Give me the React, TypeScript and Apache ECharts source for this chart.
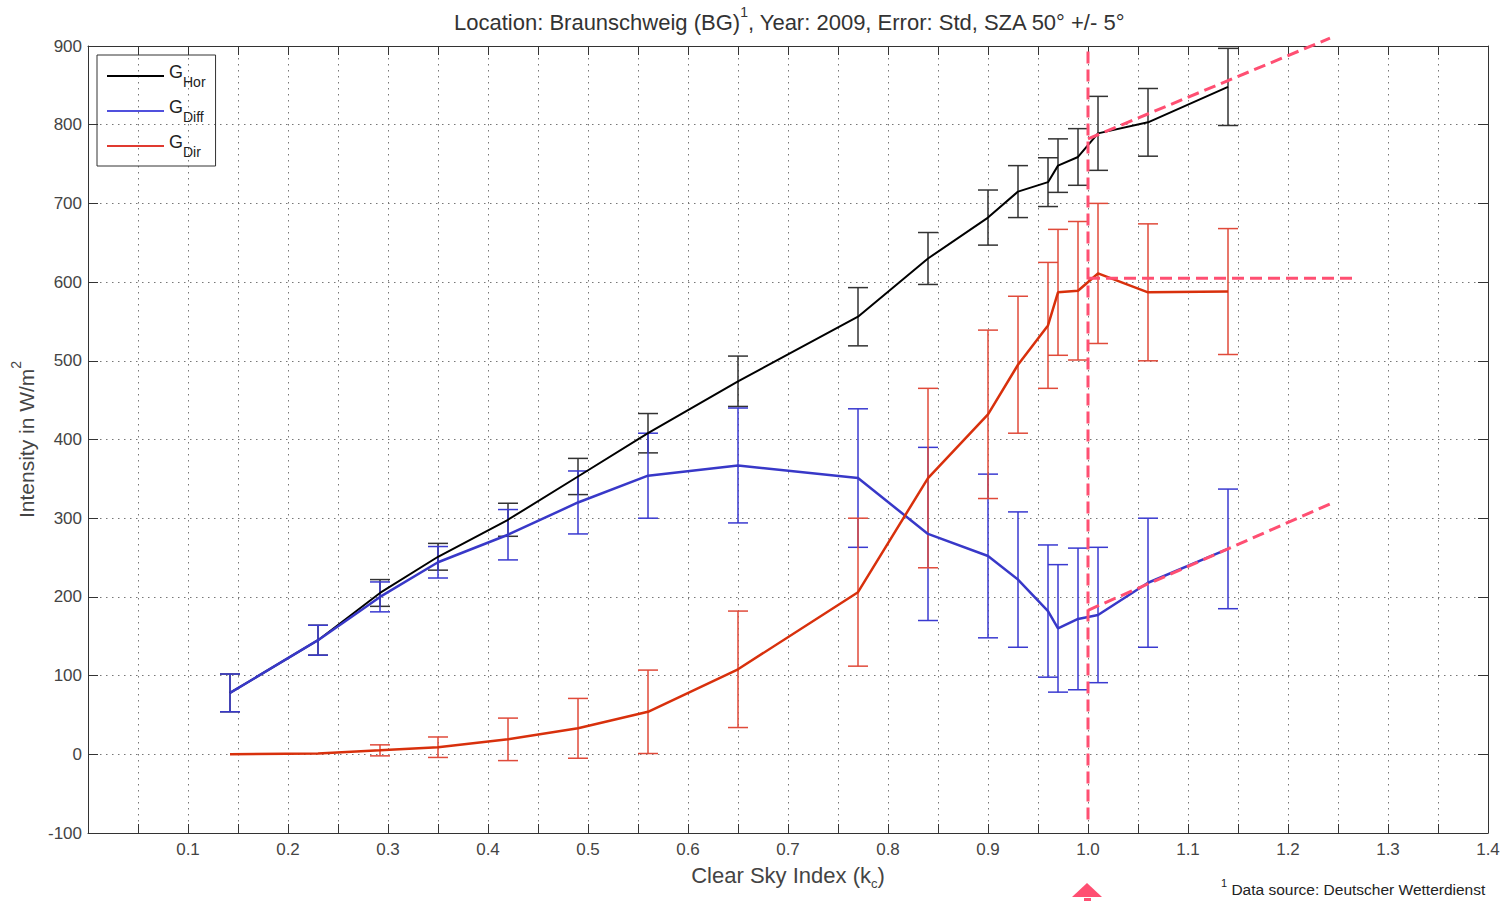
import React, { useEffect, useRef } from "react";
import * as echarts from "echarts";

// Clear sky index (x positions of the binned means)
const kc = [0.142, 0.23, 0.292, 0.35, 0.42, 0.49, 0.56, 0.65, 0.77, 0.84, 0.9, 0.93, 0.96, 0.97, 0.99, 1.01, 1.06, 1.14];
// Global horizontal irradiance (W/m²) and its std
const gHor = [78, 145, 205, 251, 298, 353, 408, 474, 556, 630, 682, 715, 727, 748, 759, 789, 803, 848];
const gHorStd = [24, 19, 17, 17, 21, 23, 25, 32, 37, 33, 35, 33, 31, 34, 36, 47, 43, 49];
// Diffuse irradiance
const gDiff = [78, 145, 200, 244, 279, 320, 354, 367, 351, 280, 252, 222, 182, 160, 172, 177, 218, 261];
const gDiffStd = [24, 19, 19, 20, 32, 40, 54, 73, 88, 110, 104, 86, 84, 81, 90, 86, 82, 76];
// Direct irradiance
const gDir = [0, 1, 5, 9, 19, 33, 54, 108, 206, 351, 432, 495, 545, 587, 589, 611, 587, 588];
const gDirStd = [0, 0, 7, 13, 27, 38, 53, 74, 94, 114, 107, 87, 80, 80, 88, 89, 87, 80];

// Hand-drawn annotation lines (data coordinates)
const refLine = [[1.0, 893], [1.0, -87]];
const trendHor = [[1.0, 782], [1.242, 910]];
const trendDir = [[1.0, 605], [1.267, 605]];
const trendDiff = [[1.0, 183], [1.242, 318]];

const legendNames = ["GHor", "GDiff", "GDir"];
const legendSubs: Record<string, string> = { GHor: "Hor", GDiff: "Diff", GDir: "Dir" };

const FONT = "'Liberation Sans', Arial, sans-serif";
const PINK = "#ff4f72";

function errSeries(name: string, means: number[], stds: number[], color: string) {
  return {
    type: "custom",
    name,
    xAxisIndex: 0,
    yAxisIndex: 0,
    z: 3,
    clip: false,
    data: kc.map((x, i) => [x, means[i], stds[i]]),
    encode: { x: 0, y: 1 },
    renderItem: (params: any, api: any) => {
      const x = api.value(0);
      const y = api.value(1);
      const s = api.value(2);
      if (!s) return null;
      const top = api.coord([x, y + s]);
      const bot = api.coord([x, y - s]);
      const hw = 10;
      const st = { stroke: color, lineWidth: 1.5 };
      return {
        type: "group",
        children: [
          { type: "line", shape: { x1: top[0], y1: top[1], x2: bot[0], y2: bot[1] }, style: st },
          { type: "line", shape: { x1: top[0] - hw, y1: top[1], x2: top[0] + hw, y2: top[1] }, style: st },
          { type: "line", shape: { x1: bot[0] - hw, y1: bot[1], x2: bot[0] + hw, y2: bot[1] }, style: st },
        ],
      };
    },
  };
}

function dashed(name: string, data: number[][]) {
  return {
    type: "line",
    name,
    data,
    symbol: "none",
    clip: false,
    z: 10,
    silent: true,
    lineStyle: { color: PINK, width: 3, type: [12, 6] },
  };
}

export default function App() {
  const ref = useRef<HTMLDivElement>(null);
  useEffect(() => {
    if (!ref.current) return;
    const chart = echarts.init(ref.current, undefined, { renderer: "svg" });
    const xLabel = (v: number) => {
      const r = Math.round(v * 100);
      if (r === 0 || r % 10 !== 0) return "";
      return (r / 100).toFixed(1);
    };
    const gridLine = { show: true, lineStyle: { color: "#777", width: 1, type: [1.5, 4.5] } };
    const axisLine = { show: true, onZero: false, lineStyle: { color: "#333", width: 1 } };
    const txt = { color: "#333", fontFamily: FONT, fontWeight: "normal" };
    chart.setOption({
      animation: false,
      backgroundColor: "#fff",
      textStyle: { fontFamily: FONT },
      title: {
        text: "{a|Location: Braunschweig (BG)}{sup|1}{a|, Year: 2009, Error: Std, SZA 50° +/- 5°}",
        left: 449,
        top: 0,
        textStyle: {
          fontWeight: "normal",
          rich: {
            a: { ...txt, fontSize: 22, verticalAlign: "bottom", lineHeight: 28 },
            sup: { ...txt, fontSize: 14, verticalAlign: "top", lineHeight: 28 },
          },
        },
      },
      legend: {
        data: legendNames,
        orient: "vertical",
        left: 97,
        top: 55,
        borderColor: "#333",
        borderWidth: 1,
        padding: [8, 10, 7, 10],
        itemGap: 9,
        itemWidth: 57,
        itemHeight: 2,
        icon: "rect",
        formatter: (name: string) => `{g|G}{s|${legendSubs[name]}}`,
        textStyle: {
          rich: {
            g: { ...txt, color: "#222", fontSize: 18, verticalAlign: "top", lineHeight: 26 },
            s: { ...txt, color: "#222", fontSize: 14, verticalAlign: "bottom", lineHeight: 26 },
          },
        },
      },
      grid: { left: 88, right: 16, top: 46, bottom: 68, containLabel: false },
      xAxis: [
        {
          type: "value",
          position: "bottom",
          min: 0,
          max: 1.4,
          interval: 0.05,
          axisLine,
          axisTick: { show: true, inside: true, length: 9, lineStyle: { color: "#333" } },
          splitLine: gridLine,
          axisLabel: { formatter: xLabel, fontSize: 17, color: "#444", margin: 8, fontFamily: FONT },
          name: "{n|Clear Sky Index (k}{c|c}{n|)}",
          nameLocation: "middle",
          nameGap: 31,
          nameTextStyle: {
            rich: {
              n: { ...txt, color: "#444", fontSize: 22, verticalAlign: "top", lineHeight: 26 },
              c: { ...txt, color: "#444", fontSize: 13, verticalAlign: "bottom", lineHeight: 26 },
            },
          },
        },
        {
          type: "value",
          position: "top",
          min: 0,
          max: 1.4,
          interval: 0.05,
          axisLine,
          axisTick: { show: true, inside: true, length: 9, lineStyle: { color: "#333" } },
          splitLine: { show: false },
          axisLabel: { show: false },
        },
      ],
      yAxis: [
        {
          type: "value",
          position: "left",
          min: -100,
          max: 900,
          interval: 100,
          axisLine,
          axisTick: { show: true, inside: true, length: 10, lineStyle: { color: "#333" } },
          splitLine: gridLine,
          axisLabel: { fontSize: 17, color: "#444", margin: 6, fontFamily: FONT },
          name: "{n|Intensity in W/m}{p|2}",
          nameLocation: "middle",
          nameGap: 50,
          nameTextStyle: {
            rich: {
              n: { ...txt, color: "#444", fontSize: 21, verticalAlign: "bottom", lineHeight: 28 },
              p: { ...txt, color: "#444", fontSize: 14, verticalAlign: "top", lineHeight: 28 },
            },
          },
        },
        {
          type: "value",
          position: "right",
          min: -100,
          max: 900,
          interval: 100,
          axisLine,
          axisTick: { show: true, inside: true, length: 10, lineStyle: { color: "#333" } },
          splitLine: { show: false },
          axisLabel: { show: false },
        },
      ],
      graphic: [
        {
          type: "text",
          left: 1221,
          top: 877,
          style: {
            text: "{s|1}{t| Data source: Deutscher Wetterdienst}",
            rich: {
              s: { fontSize: 11, fill: "#222", fontFamily: FONT, verticalAlign: "top", lineHeight: 20 },
              t: { fontSize: 15.5, fill: "#222", fontFamily: FONT, verticalAlign: "bottom", lineHeight: 20 },
            },
          },
        },
        {
          type: "polygon",
          shape: { points: [[1072, 897], [1087, 883], [1102, 897]] },
          style: { fill: PINK },
        },
        { type: "rect", shape: { x: 1084, y: 898, width: 7, height: 3 }, style: { fill: PINK } },
      ],
      series: [
        errSeries("GHor err", gHor, gHorStd, "#333"),
        errSeries("GDiff err", gDiff, gDiffStd, "#3a3ad0"),
        errSeries("GDir err", gDir, gDirStd, "#e04a3a"),
        {
          type: "line",
          name: "GHor",
          data: kc.map((x, i) => [x, gHor[i]]),
          symbol: "none",
          z: 4,
          color: "#000",
          lineStyle: { color: "#000", width: 2 },
        },
        {
          type: "line",
          name: "GDiff",
          data: kc.map((x, i) => [x, gDiff[i]]),
          symbol: "none",
          z: 5,
          color: "#5050dd",
          lineStyle: { color: "#3838c8", width: 2.5 },
        },
        {
          type: "line",
          name: "GDir",
          data: kc.map((x, i) => [x, gDir[i]]),
          symbol: "none",
          z: 5,
          color: "#e03a30",
          lineStyle: { color: "#d8300c", width: 2.5 },
        },
        dashed("ref kc=1", refLine),
        dashed("trend GHor", trendHor),
        dashed("trend GDir", trendDir),
        dashed("trend GDiff", trendDiff),
      ],
    });
    return () => chart.dispose();
  }, []);
  return (
    <div
      ref={ref}
      style={{ position: "fixed", left: 0, top: 0, width: 1504, height: 901, background: "#fff" }}
    />
  );
}
